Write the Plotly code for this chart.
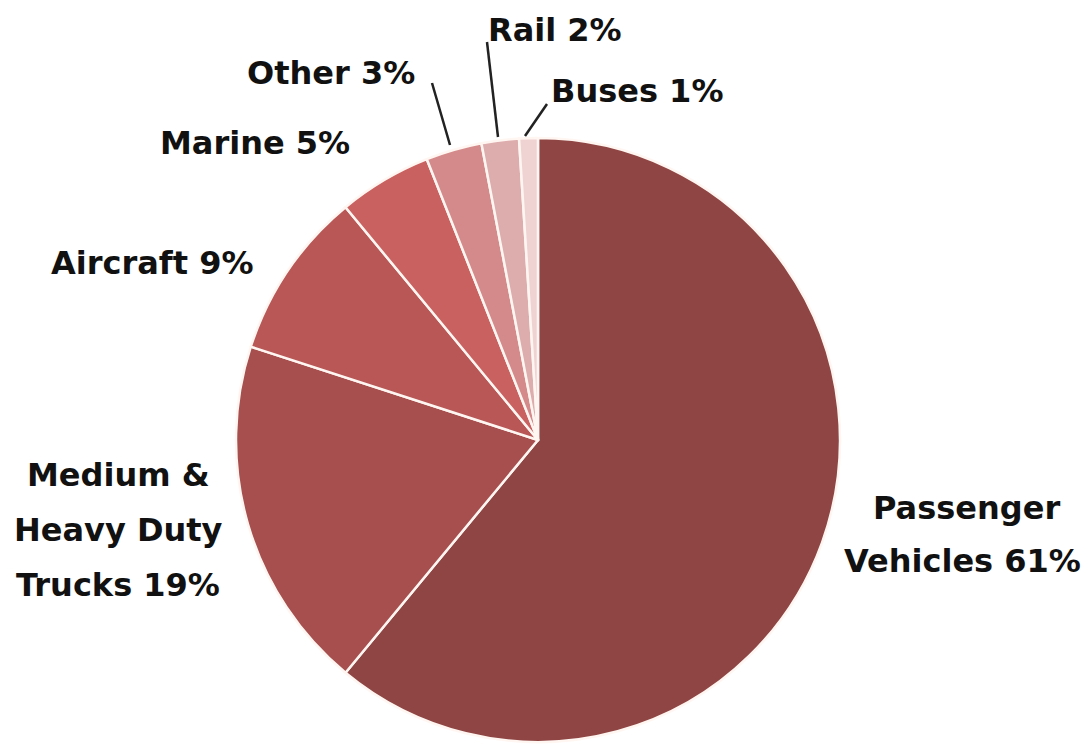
import plotly.graph_objects as go

categories = ["Passenger Vehicles", "Medium & Heavy Duty Trucks", "Aircraft",
              "Marine", "Other", "Rail", "Buses"]
values = [61, 19, 9, 5, 3, 2, 1]
label_lines = [["Passenger", "Vehicles 61%"], ["Medium &", "Heavy Duty", "Trucks 19%"],
               ["Aircraft 9%"], ["Marine 5%"], ["Other 3%"], ["Rail 2%"], ["Buses 1%"]]
colors = ["#8E4543", "#A64F4E", "#B85756", "#C96160", "#D48A8A", "#DDADAD", "#EFD3D3"]

W, H = 1088, 744
cx, cy, r = 538, 440, 302

fig = go.Figure(go.Pie(
    labels=categories, values=values, sort=False, direction="clockwise", rotation=0,
    marker=dict(colors=colors, line=dict(color="#FFF6F2", width=2.5)),
    textinfo="none", hoverinfo="label+percent", showlegend=False,
    domain=dict(x=[(cx - r) / W, (cx + r) / W], y=[(H - cy - r) / H, (H - cy + r) / H]),
))

# label line centres (pixels): list of (x, y) per line
label_pos = [[(966, 505), (962, 558)],
             [(118, 472), (118, 527), (118, 582)],
             [(152, 260)], [(255, 140)], [(331, 70)], [(555, 27)], [(637, 88)]]
anns = []
for lines, poss in zip(label_lines, label_pos):
    for txt, (px, py) in zip(lines, poss):
        anns.append(dict(x=px / W, y=1 - (py + 3) / H, xref="paper", yref="paper", text=txt,
                         showarrow=False, xanchor="center", yanchor="middle",
                         font=dict(family="DejaVu Sans", size=32, color="#111111", weight="bold")))

leaders = [((432, 83), (450, 145)), ((487, 42), (498, 137)), ((547, 104), (525, 136))]
shapes = []
for (x0, y0), (x1, y1) in leaders:
    shapes.append(dict(type="line", xref="paper", yref="paper",
                       x0=x0 / W, y0=1 - y0 / H, x1=x1 / W, y1=1 - y1 / H,
                       line=dict(color="#222222", width=2.5)))

fig.update_layout(width=W, height=H, margin=dict(l=0, r=0, t=0, b=0),
                  paper_bgcolor="white", plot_bgcolor="white",
                  annotations=anns, shapes=shapes)
fig.write_html("out.html")
